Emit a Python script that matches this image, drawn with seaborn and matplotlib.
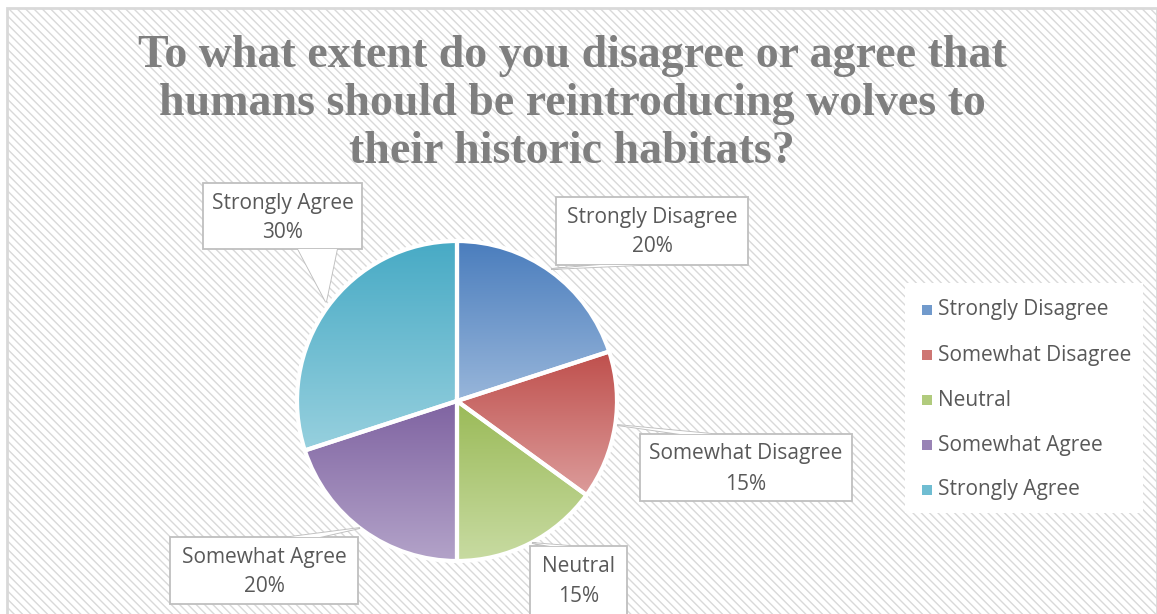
import numpy as np
import matplotlib
matplotlib.use("Agg")
import matplotlib.pyplot as plt
import matplotlib.colors as mcolors
from matplotlib.patches import Rectangle, Polygon
import seaborn as sns

# ---- data ----
categories = ["Strongly Disagree", "Somewhat Disagree", "Neutral", "Somewhat Agree", "Strongly Agree"]
values = [20, 15, 15, 20, 30]
title = "To what extent do you disagree or agree that\nhumans should be reintroducing wolves to\ntheir historic habitats?"

# ---- style ----
top_colors = ["#4a7dbd", "#bf4f4c", "#9aba57", "#7f63a1", "#47aac5"]
bottom_colors = ["#98b6da", "#dc9c9b", "#c8dba2", "#b3a3c9", "#97d0de"]
sns.set_theme(style="white")
plt.rcParams["font.family"] = ["Open Sans", "DejaVu Sans"]
plt.rcParams["hatch.linewidth"] = 1.0
plt.rcParams["hatch.color"] = "#e2e2e2"
TXT = "#595959"
FS = 15

W, H = 1157, 614
fig = plt.figure(figsize=(W / 100, H / 100), dpi=100)
fig.patch.set_facecolor("white")

# overlay axes in pixel coordinates
ov = fig.add_axes([0, 0, 1, 1], zorder=0)
ov.set_xlim(0, W)
ov.set_ylim(H, 0)
ov.axis("off")

# striped background with border
ov.add_patch(Rectangle((7, 8), W - 7, H, facecolor="white", edgecolor="#d9d9d9",
                       hatch="\\" * 4, lw=2, zorder=0))

# title
ov.text(572, 104, title, ha="center", va="center", fontsize=33, fontweight="bold",
        color="#7f7f7f", family=["Liberation Serif", "DejaVu Serif"], linespacing=1.2, zorder=2)

# ---- pie ----
cx, cy, r = 457, 401, 160
ax = fig.add_axes([(cx - r) / W, (H - cy - r) / H, 2 * r / W, 2 * r / H], zorder=3)
ax.patch.set_alpha(0)
wedges, _ = ax.pie(values, startangle=90, counterclock=False, radius=1,
                   wedgeprops=dict(edgecolor="white", linewidth=3, clip_on=False))
for w, c1, c2 in zip(wedges, top_colors, bottom_colors):
    w.set_facecolor("none")
    ext = w.get_path().get_extents()
    a = np.array(mcolors.to_rgb(c1))
    b = np.array(mcolors.to_rgb(c2))
    t = np.linspace(0, 1, 256)[:, None]
    grad = (a[None, :] * (1 - t) + b[None, :] * t)[:, None, :]
    im = ax.imshow(grad, extent=(ext.x0, ext.x1, ext.y0, ext.y1), origin="upper",
                   aspect="auto", zorder=1)
    im.set_clip_path(w)
    w.set_zorder(2)
ax.set_xlim(-1.0, 1.0)
ax.set_ylim(-1.0, 1.0)
ax.set_aspect("auto")
ax.axis("off")

# ---- callout labels (pixel coords) ----
top = fig.add_axes([0, 0, 1, 1], zorder=5)
top.set_xlim(0, W)
top.set_ylim(H, 0)
top.axis("off")
top.patch.set_alpha(0)

boxes = [  # x0, y0, x1, y1, pointer polygon
    (556, 197, 748, 265, [(551, 269), (600, 265), (640, 265)]),
    (640, 434, 852, 501, [(617, 425), (680, 434), (712, 434)]),
    (530, 546, 627, 640, [(532, 543), (550, 546), (570, 546)]),
    (170, 537, 358, 604, [(360, 528), (290, 537), (320, 537)]),
    (203, 183, 362, 249, [(326, 302), (298, 249), (337, 249)]),
]
for (x0, y0, x1, y1, ptr), cat, v in zip(boxes, categories, values):
    top.add_patch(Polygon(ptr, closed=True, facecolor="white", edgecolor="#bfbfbf", lw=1.3, zorder=1))
    top.add_patch(Rectangle((x0, y0), x1 - x0, y1 - y0, facecolor="white",
                            edgecolor="#bfbfbf", lw=1.3, zorder=2))
    top.add_patch(Polygon(ptr, closed=True, facecolor="white", edgecolor="none", zorder=3))
    top.text((x0 + x1) / 2, y0 + 20, cat, ha="center", va="center", fontsize=FS, color=TXT, zorder=4)
    top.text((x0 + x1) / 2, y0 + 50, f"{v}%", ha="center", va="center", fontsize=FS, color=TXT, zorder=4)

# ---- legend ----
top.add_patch(Rectangle((905, 283), 238, 230, facecolor="white", edgecolor="none", zorder=1))
for i, (cat, c1, c2) in enumerate(zip(categories, top_colors, bottom_colors)):
    y = 310 + 45 * i
    mid = (np.array(mcolors.to_rgb(c1)) + np.array(mcolors.to_rgb(c2))) / 2
    top.add_patch(Rectangle((922, y - 5), 10, 10, facecolor=mid, edgecolor="none", zorder=2))
    top.text(938, y, cat, ha="left", va="center", fontsize=FS, color=TXT, zorder=3)

fig.savefig("out.png", dpi=100)
